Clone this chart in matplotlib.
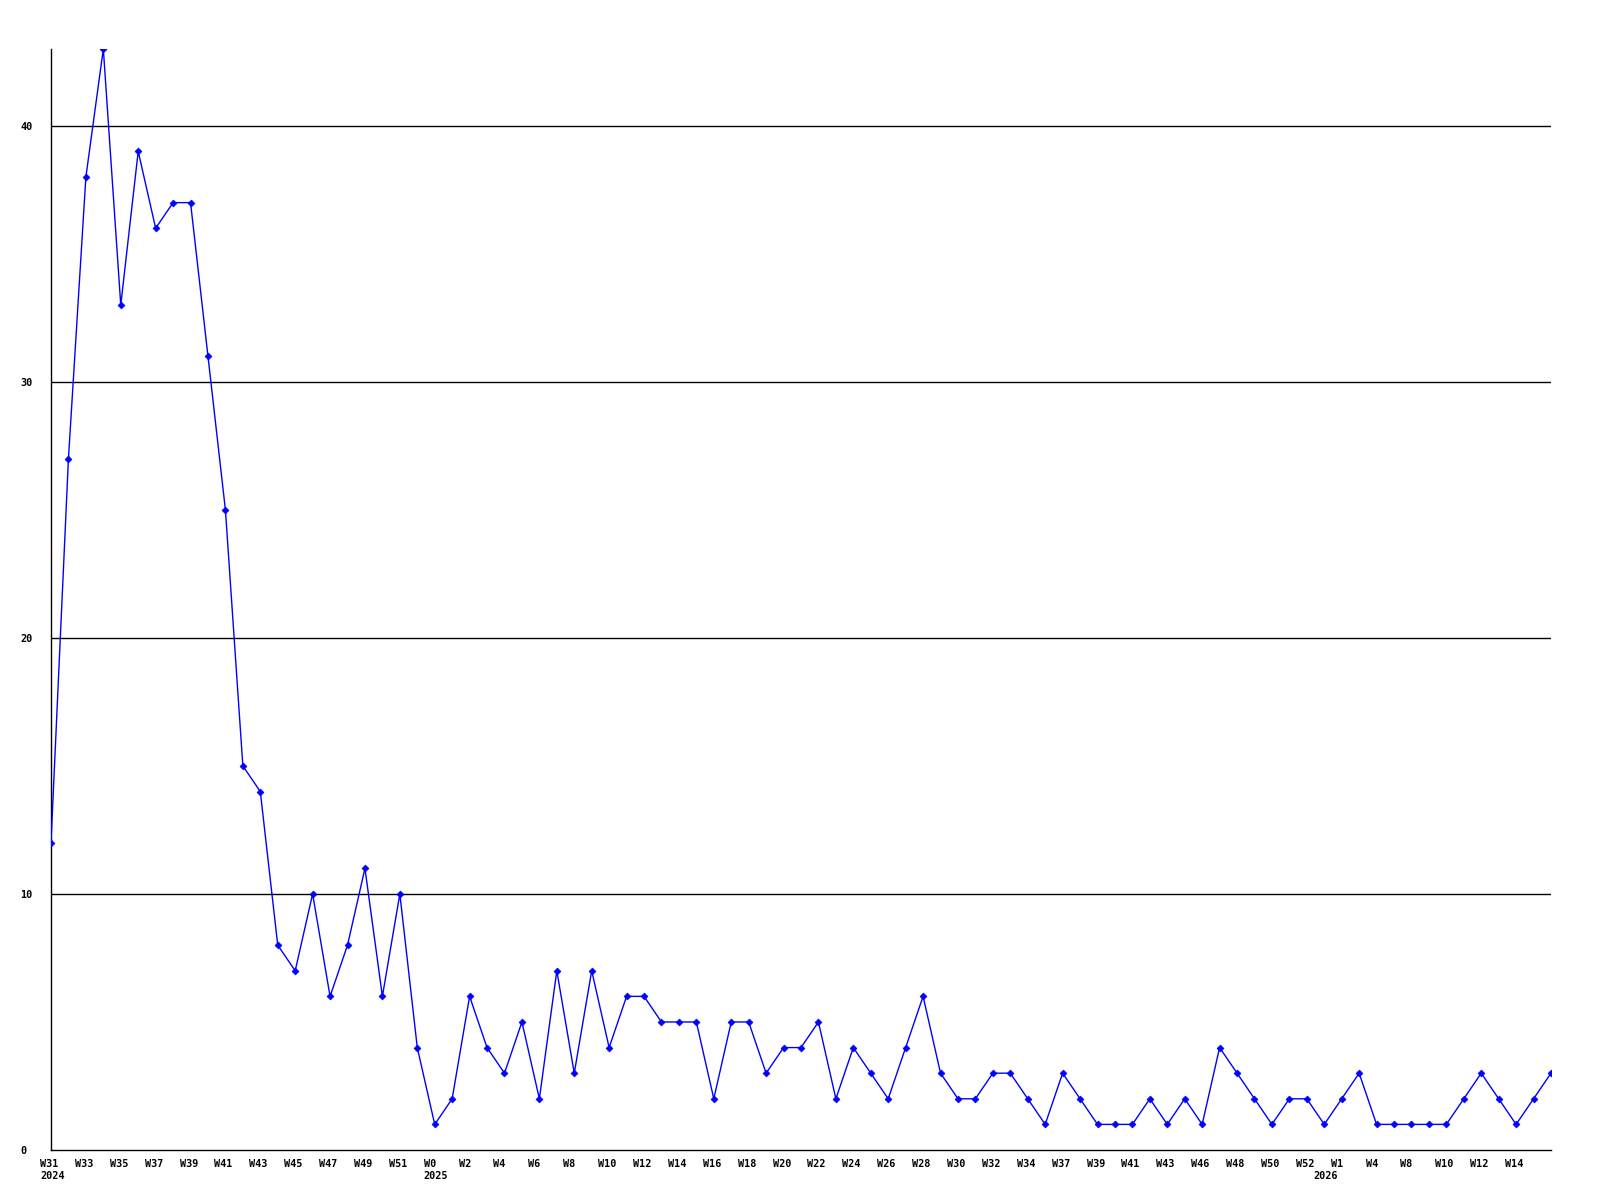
import numpy as np
import matplotlib
matplotlib.use("Agg")
import matplotlib.pyplot as plt
import matplotlib.transforms as mtransforms

# weekly counts, one per week point
values = [12, 27, 38, 43, 33, 39, 36, 37, 37, 31,
          25, 15, 14, 8, 7, 10, 6, 8, 11, 6,
          10, 4, 1, 2, 6, 4, 3, 5, 2, 7,
          3, 7, 4, 6, 6, 5, 5, 5, 2, 5,
          5, 3, 4, 4, 5, 2, 4, 3, 2, 4,
          6, 3, 2, 2, 3, 3, 2, 1, 3, 2,
          1, 1, 1, 2, 1, 2, 1, 4, 3, 2,
          1, 2, 2, 1, 2, 3, 1, 1, 1, 1,
          1, 2, 3, 2, 1, 2, 3]

# labels shown on every second point
week_labels = ["W31", "W33", "W35", "W37", "W39", "W41", "W43", "W45", "W47", "W49", "W51",
               "W0", "W2", "W4", "W6", "W8", "W10", "W12", "W14", "W16", "W18", "W20",
               "W22", "W24", "W26", "W28", "W30", "W32", "W34", "W37", "W39", "W41",
               "W43", "W46", "W48", "W50", "W52", "W1", "W4", "W8", "W10", "W12", "W14"]
# year labels: (point index, text)
year_idx = [0, 22, 73]
year_txt = ["2024", "2025", "2026"]

y_ticks = [0, 10, 20, 30, 40]

fig = plt.figure(figsize=(16, 12), dpi=100)
ax = fig.add_axes([51 / 1600, 1 - 1150 / 1200, 1500 / 1600, 1101 / 1200])

x = np.arange(len(values))
ax.plot(x, values, color="#0000ff", linewidth=1.0, marker="D", markersize=3.5,
        markeredgewidth=0.5, markerfacecolor="#0000ff", markeredgecolor="#0000ff", zorder=3)

ax.set_xlim(0, len(values) - 1)
ax.set_ylim(0, max(values))

# horizontal grid lines
for yv in y_ticks[1:]:
    ax.axhline(yv, color="black", linewidth=1.0, zorder=1)

for s in ["top", "right"]:
    ax.spines[s].set_visible(False)
for s in ["left", "bottom"]:
    ax.spines[s].set_color("black")
    ax.spines[s].set_linewidth(1.0)

fnt = dict(family="DejaVu Sans Mono", weight="bold", size=7.3)

ax.set_yticks(y_ticks)
ax.set_yticklabels([str(v) for v in y_ticks], ha="left", **fnt)
ax.tick_params(axis="y", length=0, pad=22)

# x labels, left aligned a little left of each point
ax.set_xticks([])
base = mtransforms.blended_transform_factory(ax.transData, ax.transAxes)
wk_tr = mtransforms.offset_copy(base, fig=fig, x=-11, y=-9, units="dots")
yr_tr = mtransforms.offset_copy(base, fig=fig, x=-11, y=-21, units="dots")
for i, w in enumerate(week_labels):
    ax.text(x[2 * i], 0, w, transform=wk_tr, ha="left", va="top", **fnt)
for i, t in zip(year_idx, year_txt):
    ax.text(x[i], 0, t, transform=yr_tr, ha="left", va="top", **fnt)

fig.savefig("out.png", dpi=100, facecolor="white")
